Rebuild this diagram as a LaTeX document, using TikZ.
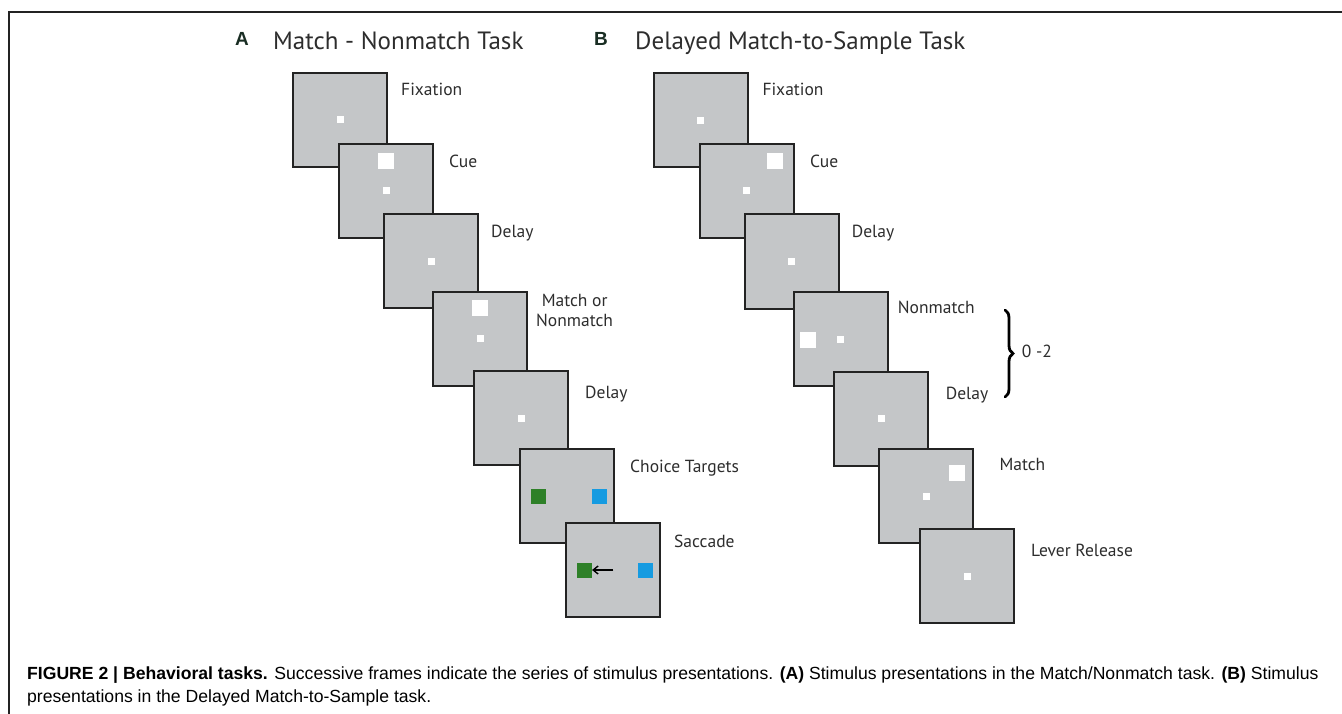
\documentclass[tikz,border=0pt]{standalone}
\usepackage{fontspec}
\usetikzlibrary{arrows.meta,decorations.pathreplacing}
\newfontfamily\lblfont{PT Sans}
\newfontfamily\capfont{Liberation Sans}
\definecolor{frgray}{RGB}{196,198,200}
\definecolor{frline}{RGB}{35,35,35}
\definecolor{tgreen}{RGB}{46,128,40}
\definecolor{tblue}{RGB}{22,155,225}
\definecolor{lbl}{RGB}{45,45,45}
\definecolor{ttl}{RGB}{25,45,35}
\begin{document}
\begin{tikzpicture}[x=1pt,y=-1pt,
  scr/.style={draw=frline, line width=2pt, fill=frgray, minimum size=94pt, inner sep=0pt, outer sep=0pt},
  fixdot/.style={fill=white, minimum size=7pt, inner sep=0pt},
  bigsq/.style={fill=white, minimum size=16pt, inner sep=0pt},
  gtarget/.style={fill=tgreen, minimum size=15pt, inner sep=0pt},
  btarget/.style={fill=tblue, minimum size=15pt, inner sep=0pt},
  lab/.style={anchor=base west, inner sep=0pt, text=lbl, font=\lblfont\fontsize{17.5}{20}\selectfont},
  ttlbl/.style={anchor=base west, inner sep=0pt, text=lbl, font=\lblfont\fontsize{25}{28}\selectfont},
  letter/.style={anchor=base west, inner sep=0pt, text=ttl, font=\capfont\bfseries\fontsize{19}{21}\selectfont},
  capt/.style={anchor=base west, inner sep=0pt, text=black, font=\capfont\fontsize{17.6}{20}\selectfont}
]
\useasboundingbox (0,0) rectangle (1342,714);
\fill[white] (0,0) rectangle (1342,714);
% outer rule lines
\draw[line width=2pt, frline] (1342,12) -- (9,12) -- (9,714);

% titles
\node[letter] (la) at (235,46) {A};
\node[ttlbl] (ta) at (273,49.3) {Match - Nonmatch Task};
\node[letter] (lb) at (594,46) {B};
\node[ttlbl] (tb) at (635,49.3) {Delayed Match-to-Sample Task};

% ---------- A column ----------
\node[scr] (a1) at (340,120) {};
\node[fixdot] (a1f) at (340,120) {};
\node[scr] (a2) at (386.3,190.7) {};
\node[bigsq] (a2c) at (386.3,161) {};
\node[fixdot] (a2f) at (386.3,190.7) {};
\node[scr] (a3) at (431.3,261.3) {};
\node[fixdot] (a3f) at (431.3,261.3) {};
\node[scr] (a4) at (480.2,338.8) {};
\node[bigsq] (a4c) at (480.2,308.3) {};
\node[fixdot] (a4f) at (480.2,338.8) {};
\node[scr] (a5) at (521.3,418.3) {};
\node[fixdot] (a5f) at (521.3,418.3) {};
\node[scr] (a6) at (567.3,496.2) {};
\node[gtarget] (a6g) at (538.3,496.7) {};
\node[btarget] (a6b) at (599.3,496.7) {};
\node[scr] (a7) at (613.3,570.2) {};
\node[gtarget] (a7g) at (584.3,570) {};
\node[btarget] (a7b) at (645,570) {};
\coordinate (a7s) at (613.3,570);
\draw[line width=1.4pt, -{Straight Barb[length=5pt,width=8pt]}] (a7s) -- (a7g.east);

\node[lab] (la1) at (401,96) {Fixation};
\node[lab] (la2) at (449,167.7) {Cue};
\node[lab] (la3) at (491,237.3) {Delay};
\node[lab, align=center, anchor=north west] (la4) at (536,294) {Match or\\Nonmatch};
\node[lab] (la5) at (585,398.3) {Delay};
\node[lab] (la6) at (630,472.7) {Choice Targets};
\node[lab] (la7) at (674,547.3) {Saccade};

% ---------- B column ----------
\node[scr] (b1) at (700.5,120.3) {};
\node[fixdot] (b1f) at (700.5,120.3) {};
\node[scr] (b2) at (746.5,191) {};
\node[bigsq] (b2c) at (775,161) {};
\node[fixdot] (b2f) at (746.5,191) {};
\node[scr] (b3) at (791.7,261.5) {};
\node[fixdot] (b3f) at (791.7,261.5) {};
\node[scr] (b4) at (840.5,339.2) {};
\node[bigsq] (b4c) at (808.3,340) {};
\node[fixdot] (b4f) at (840.5,339.2) {};
\node[scr] (b5) at (881.3,418.7) {};
\node[fixdot] (b5f) at (881.3,418.7) {};
\node[scr] (b6) at (926.2,496.3) {};
\node[bigsq] (b6c) at (957.3,472.7) {};
\node[fixdot] (b6f) at (926.2,496.3) {};
\node[scr] (b7) at (967.2,576.2) {};
\node[fixdot] (b7f) at (967.2,576.2) {};

\node[lab] (lb1) at (762.3,96) {Fixation};
\node[lab] (lb2) at (810,167.7) {Cue};
\node[lab] (lb3) at (851.7,237.3) {Delay};
\node[lab] (lb4) at (897.7,313.3) {Nonmatch};
\node[lab] (lb5) at (945.7,399) {Delay};
\node[lab] (lb6) at (999.3,470.7) {Match};
\node[lab] (lb7) at (1031,556.7) {Lever Release};

% brace
\coordinate (brt) at (1005,310);
\coordinate (brb) at (1005,397);
\draw[line width=2.8pt, line cap=round, decorate, decoration={brace, amplitude=8pt}] (brt) -- (brb);
\node[lab] (lrep) at (1021.7,357) {0 -2};

% caption
\node[capt] (cap1) at (27,679.5) {\textbf{FIGURE 2 | Behavioral tasks.} Successive frames indicate the series of stimulus presentations. \textbf{(A)} Stimulus presentations in the Match/Nonmatch task. \textbf{(B)} Stimulus};
\node[capt] (cap2) at (27,702.5) {presentations in the Delayed Match-to-Sample task.};
\end{tikzpicture}
\end{document}
